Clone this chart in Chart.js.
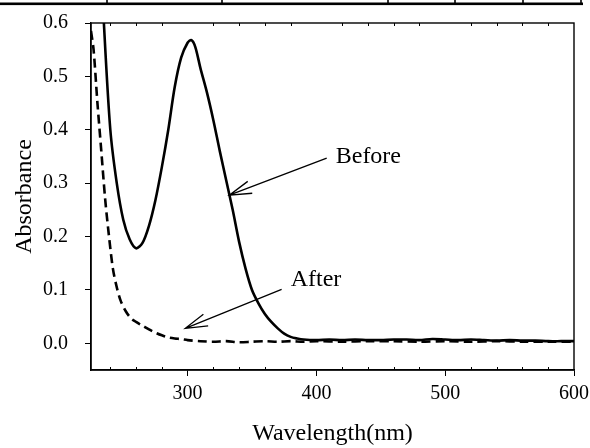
<!DOCTYPE html>
<html>
<head>
<meta charset="utf-8">
<script src="https://cdn.jsdelivr.net/npm/chart.js@4/dist/chart.umd.min.js"></script>
<style>
    html, body { margin: 0; padding: 0; background: #fff; }
    #wrap { position: relative; width: 590px; height: 448px; }
</style>
</head>
<body>
<div id="wrap"><canvas id="spectrum" width="590" height="448"></canvas></div>
<script>
// ==================== DATA ====================
// wavelength (nm) and absorbance
const beforeWl = [225, 230, 235, 240, 245, 250, 255, 260, 265, 270, 275, 280, 285, 290, 295, 300, 303, 306, 310, 315, 320, 325, 330, 335, 340, 345, 350, 355, 360, 365, 370, 375, 380, 385, 390,
    400, 410, 420, 430, 440, 450, 460, 470, 480, 490, 500, 510, 520, 530, 540, 550, 560, 570, 580, 590, 600];
const beforeAbs = [1.30, 0.85, 0.60, 0.40, 0.30, 0.232, 0.195, 0.178, 0.188, 0.22, 0.268, 0.33, 0.40, 0.48, 0.535, 0.563, 0.568, 0.555, 0.515, 0.47, 0.418, 0.36, 0.305, 0.25, 0.19, 0.14, 0.10, 0.075, 0.055, 0.04, 0.028, 0.018, 0.012, 0.009, 0.007,
    0.006, 0.007, 0.006, 0.007, 0.006, 0.006, 0.007, 0.007, 0.006, 0.008, 0.007, 0.006, 0.007, 0.006, 0.005, 0.006, 0.005, 0.005, 0.004, 0.004, 0.004];

const afterWl = [225, 227, 230, 233, 236, 239, 242, 245, 248, 252, 256, 260, 265, 270, 275, 280, 285, 290, 295, 300,
    310, 320, 330, 340, 350, 360, 370, 380, 390, 400, 420, 440, 460, 480, 500, 520, 540, 560, 580, 600];
const afterAbs = [0.585, 0.55, 0.45, 0.36, 0.27, 0.20, 0.14, 0.105, 0.08, 0.06, 0.047, 0.04, 0.033, 0.026, 0.02, 0.015, 0.011, 0.009, 0.008, 0.006,
    0.004, 0.003, 0.004, 0.002, 0.003, 0.004, 0.003, 0.004, 0.003, 0.004, 0.003, 0.004, 0.004, 0.003, 0.004, 0.003, 0.004, 0.003, 0.003, 0.003];

const xTicks = [300, 400, 500, 600];
const xMinorTicks = [240, 260, 280, 320, 340, 360, 380, 420, 440, 460, 480, 520, 540, 560, 580];
const yTicks = [0, 0.1, 0.2, 0.3, 0.4, 0.5, 0.6];

// callouts: label anchor, arrow tail, arrow tip (data units)
const callouts = [
    { text: 'Before', at: [415, 0.349], from: [408, 0.347], to: [332.4, 0.2775] },
    { text: 'After', at: [380, 0.12], from: [373, 0.101], to: [298.2, 0.028] }
];

// ==================== PLUGINS ====================
const SERIF = '"Liberation Serif", "Times New Roman", serif';

function toPoints(xs, ys) {
    return xs.map((x, i) => ({ x, y: ys[i] }));
}

// no extra label overhang padding, the layout padding handles it
function noOverhang(s) {
    s.paddingLeft = 0;
    s.paddingRight = 0;
    s.paddingTop = 0;
    s.paddingBottom = 0;
}

// page table rule cropped along the top edge of the figure
const pageRule = {
    id: 'pageRule',
    afterDraw(chart) {
        const ctx = chart.ctx;
        ctx.save();
        ctx.fillStyle = '#000';
        ctx.fillRect(0, 2.5, 583, 2.6);
        [107, 222, 388, 455, 523, 581].forEach(x => ctx.fillRect(x - 0.8, 0, 1.6, 4));
        ctx.restore();
    }
};

const frameBox = {
    id: 'frameBox',
    afterDatasetsDraw(chart) {
        const { ctx, chartArea: a, scales } = chart;
        ctx.save();
        ctx.strokeStyle = '#000';
        ctx.lineWidth = 1.4;
        ctx.strokeRect(a.left, a.top, a.right - a.left, a.bottom - a.top);
        ctx.lineWidth = 1;
        xMinorTicks.forEach(v => {
            const px = Math.round(scales.x.getPixelForValue(v)) + 0.5;
            ctx.beginPath();
            ctx.moveTo(px, a.bottom); ctx.lineTo(px, a.bottom - 3);
            ctx.moveTo(px, a.top); ctx.lineTo(px, a.top + 3);
            ctx.stroke();
        });
        ctx.restore();
    }
};

const arrowLabels = {
    id: 'arrowLabels',
    afterDatasetsDraw(chart) {
        const { ctx, scales: { x, y } } = chart;
        ctx.save();
        ctx.strokeStyle = '#000';
        ctx.fillStyle = '#000';
        ctx.lineWidth = 1.3;
        ctx.font = '24px ' + SERIF;
        ctx.textBaseline = 'middle';
        ctx.textAlign = 'left';
        callouts.forEach(c => {
            const x0 = x.getPixelForValue(c.from[0]), y0 = y.getPixelForValue(c.from[1]);
            const x1 = x.getPixelForValue(c.to[0]), y1 = y.getPixelForValue(c.to[1]);
            const ang = Math.atan2(y0 - y1, x0 - x1);
            const len = 23, spread = 0.28;
            ctx.beginPath();
            ctx.moveTo(x0, y0); ctx.lineTo(x1, y1);
            ctx.moveTo(x1 + len * Math.cos(ang - spread), y1 + len * Math.sin(ang - spread));
            ctx.lineTo(x1, y1);
            ctx.lineTo(x1 + len * Math.cos(ang + spread), y1 + len * Math.sin(ang + spread));
            ctx.stroke();
            ctx.fillText(c.text, x.getPixelForValue(c.at[0]), y.getPixelForValue(c.at[1]));
        });
        ctx.restore();
    }
};

// ==================== CHART ====================
new Chart(document.getElementById('spectrum'), {
    type: 'scatter',
    data: {
        datasets: [
            {
                label: 'Before',
                data: toPoints(beforeWl, beforeAbs),
                showLine: true,
                borderColor: '#000',
                borderWidth: 2.6,
                pointRadius: 0,
                tension: 0.3
            },
            {
                label: 'After',
                data: toPoints(afterWl, afterAbs),
                showLine: true,
                borderColor: '#000',
                borderWidth: 2.6,
                borderDash: [9, 5],
                pointRadius: 0,
                tension: 0.3
            }
        ]
    },
    options: {
        responsive: false,
        animation: false,
        layout: { padding: { left: 0, top: 23, right: 16, bottom: 0 } },
        plugins: {
            legend: { display: false },
            tooltip: { enabled: false }
        },
        scales: {
            x: {
                type: 'linear',
                min: 225,
                max: 600,
                afterFit: s => { s.height = 78; noOverhang(s); },
                afterBuildTicks: s => { s.ticks = xTicks.map(v => ({ value: v })); },
                border: { display: true, color: '#000', width: 1.4 },
                grid: { drawOnChartArea: false, color: '#000', tickLength: 6 },
                ticks: {
                    color: '#000',
                    padding: 6,
                    maxRotation: 0,
                    font: { family: SERIF, size: 20 },
                    callback: v => String(v)
                },
                title: {
                    display: true,
                    text: 'Wavelength(nm)',
                    color: '#000',
                    padding: { top: 0, bottom: 0 },
                    font: { family: SERIF, size: 24 }
                }
            },
            y: {
                min: -0.05,
                max: 0.6,
                afterFit: s => { s.width = 91; noOverhang(s); },
                afterBuildTicks: s => { s.ticks = yTicks.map(v => ({ value: v })); },
                border: { display: true, color: '#000', width: 1.4 },
                grid: { drawOnChartArea: false, color: '#000', tickLength: 6 },
                ticks: {
                    color: '#000',
                    padding: 17,
                    font: { family: SERIF, size: 20 },
                    callback: v => v.toFixed(1)
                },
                title: {
                    display: true,
                    text: 'Absorbance',
                    color: '#000',
                    padding: { top: 10, bottom: 0 },
                    font: { family: SERIF, size: 24 }
                }
            }
        }
    },
    plugins: [frameBox, arrowLabels, pageRule]
});
</script>
</body>
</html>
